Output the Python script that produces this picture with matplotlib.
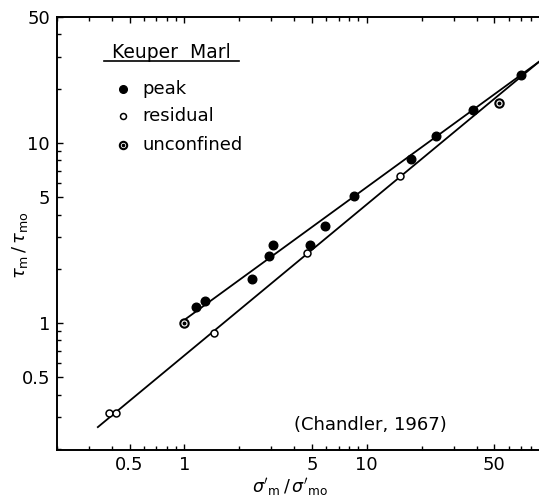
import matplotlib
matplotlib.use("Agg")
import matplotlib.pyplot as plt
from matplotlib.ticker import FixedLocator, FixedFormatter, LogLocator, NullFormatter
from matplotlib.lines import Line2D

# Data
peak_x = [1.15, 1.30, 2.35, 2.91, 3.06, 4.89, 5.89, 8.5, 17.4, 24.1, 38.0, 70.3]
peak_y = [1.23, 1.33, 1.76, 2.36, 2.71, 2.71, 3.46, 5.08, 8.17, 10.9, 15.3, 23.8]
resid_x = [0.384, 0.42, 1.46, 4.70, 15.3]
resid_y = [0.316, 0.316, 0.88, 2.45, 6.56]
unconf_x = [1.0, 53.3]
unconf_y = [1.0, 16.7]
peak_line_x = [1.0, 88.0]
peak_line_y = [1.04, 28.2]
resid_line_x = [0.335, 88.0]
resid_line_y = [0.264, 28.2]
tick_vals = [0.5, 1, 5, 10, 50]
tick_labels = ["0.5", "1", "5", "10", "50"]

plt.rcParams['font.family'] = ['DejaVu Sans']
fig = plt.figure(figsize=(5.39, 4.97), dpi=100)
W, H = 539, 497
ax = fig.add_axes([57 / W, 1 - 450 / H, (539 - 57) / W, (450 - 17) / H])
ax.set_xscale('log')
ax.set_yscale('log')
ax.set_xlim(0.2, 88)
ax.set_ylim(0.197, 50)

ax.plot(peak_line_x, peak_line_y, color='black', lw=1.3, zorder=2)
ax.plot(resid_line_x, resid_line_y, color='black', lw=1.3, zorder=2)

ax.plot(peak_x, peak_y, 'o', ms=6.2, mfc='black', mec='black', zorder=3)
ax.plot(resid_x, resid_y, 'o', ms=5.0, mfc='white', mec='black', mew=1.1, zorder=3)
ax.plot(unconf_x, unconf_y, 'o', ms=6.0, mfc='white', mec='black', mew=1.5, zorder=3)
ax.plot(unconf_x, unconf_y, 'o', ms=1.8, mfc='black', mec='black', zorder=4)

for s in ['top', 'bottom', 'left']:
    ax.spines[s].set_linewidth(1.4)
ax.spines['right'].set_visible(False)

for axis in (ax.xaxis, ax.yaxis):
    axis.set_major_locator(FixedLocator(tick_vals))
    axis.set_major_formatter(FixedFormatter(tick_labels))
    axis.set_minor_locator(LogLocator(base=10, subs=range(2, 10)))
    axis.set_minor_formatter(NullFormatter())
ax.tick_params(which='both', direction='in', top=True, right=False, width=1.0)
ax.tick_params(which='major', length=4, labelsize=13, pad=5)
ax.tick_params(axis='x', which='major', pad=4)
ax.tick_params(which='minor', length=3)

fig.text(20 / W, 1 - 245 / H, r'$\tau_{\rm m}\,/\,\tau_{\rm mo}$', fontsize=13,
         rotation=90, ha='center', va='center')
fig.text(290 / W, 1 - 487 / H, r"$\sigma'_{\rm m}\,/\,\sigma'_{\rm mo}$", fontsize=12.5,
         ha='center', va='center')

ax.text(4.0, 0.27, '(Chandler, 1967)', fontsize=13, ha='left', va='center')

# Legend block
fig.text(112 / W, 1 - 52 / H, 'Keuper  Marl', fontsize=13.5, ha='left', va='center')
fig.add_artist(Line2D([104 / W, 239 / W], [1 - 61 / H, 1 - 61 / H], color='black', lw=1.2))
rows = [89, 116, 145]
names = ['peak', 'residual', 'unconfined']
for r, n in zip(rows, names):
    fig.text(142 / W, 1 - r / H, n, fontsize=13, ha='left', va='center')
fig.add_artist(Line2D([123 / W], [1 - rows[0] / H], marker='o', ms=5.5, mfc='black', mec='black', ls=''))
fig.add_artist(Line2D([123 / W], [1 - rows[1] / H], marker='o', ms=4.3, mfc='white', mec='black', mew=1.1, ls=''))
fig.add_artist(Line2D([123 / W], [1 - rows[2] / H], marker='o', ms=5.3, mfc='white', mec='black', mew=1.5, ls=''))
fig.add_artist(Line2D([123 / W], [1 - rows[2] / H], marker='o', ms=1.6, mfc='black', mec='black', ls=''))

fig.savefig('out.png', dpi=100)
